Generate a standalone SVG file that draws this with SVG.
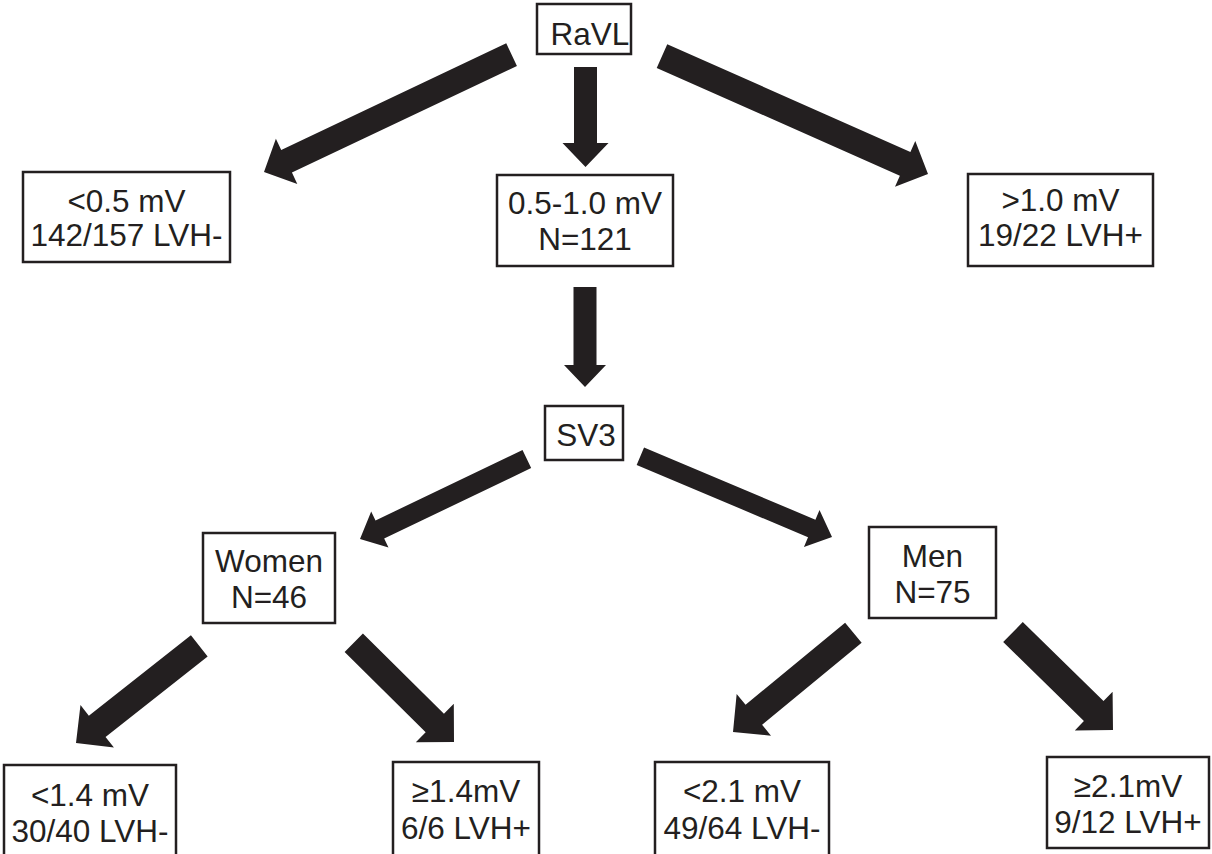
<svg xmlns="http://www.w3.org/2000/svg" width="1212" height="854" viewBox="0 0 1212 854">
<style>
.box{fill:#fff;stroke:#231f20;stroke-width:2.5}
.t{font-family:"Liberation Sans",Arial,sans-serif;font-size:31.5px;fill:#231f20;text-anchor:middle}
.arr{fill:#231f20;stroke:none}
</style>
<rect width="1212" height="854" fill="#fff"/>
<g id="connectors">
<path class="arr" transform="translate(264,172) rotate(154.64)" d="M0,0 L-25,-25 L-25,-12.5 L-274,-12.5 L-274,12.5 L-25,12.5 L-25,25 Z"/>
<path class="arr" transform="translate(585.5,167) rotate(90)" d="M0,0 L-24,-23 L-24,-11.5 L-100,-11.5 L-100,11.5 L-24,11.5 L-24,23 Z"/>
<path class="arr" transform="translate(928,174) rotate(23.92)" d="M0,0 L-25,-25 L-25,-13 L-291,-13 L-291,13 L-25,13 L-25,25 Z"/>
<path class="arr" transform="translate(585,387) rotate(90)" d="M0,0 L-22,-21 L-22,-11.5 L-100,-11.5 L-100,11.5 L-22,11.5 L-22,21 Z"/>
<path class="arr" transform="translate(360,539) rotate(154.4)" d="M0,0 L-22,-20 L-22,-10 L-185,-10 L-185,10 L-22,10 L-22,20 Z"/>
<path class="arr" transform="translate(832,537) rotate(22.87)" d="M0,0 L-22,-20 L-22,-9.5 L-208,-9.5 L-208,9.5 L-22,9.5 L-22,20 Z"/>
<path class="arr" transform="translate(76,743) rotate(141.74)" d="M0,0 L-27,-27 L-27,-13.5 L-157,-13.5 L-157,13.5 L-27,13.5 L-27,27 Z"/>
<path class="arr" transform="translate(454,742) rotate(44.7)" d="M0,0 L-27,-27 L-27,-13 L-141,-13 L-141,13 L-27,13 L-27,27 Z"/>
<path class="arr" transform="translate(733,732) rotate(140.5)" d="M0,0 L-27,-27 L-27,-13 L-156,-13 L-156,13 L-27,13 L-27,27 Z"/>
<path class="arr" transform="translate(1113,730) rotate(44.4)" d="M0,0 L-27,-27 L-27,-14 L-140,-14 L-140,14 L-27,14 L-27,27 Z"/>
</g>
<g id="ravl"><rect class="box" x="537" y="4" width="94" height="50"/><text class="t" x="590" y="45">RaVL</text></g>
<g id="lt05"><rect class="box" x="23" y="172" width="207" height="90"/><text class="t" x="126.5" y="212">&lt;0.5 mV</text><text class="t" x="126.5" y="246">142/157 LVH-</text></g>
<g id="mid"><rect class="box" x="497" y="175" width="176" height="91"/><text class="t" x="585" y="214">0.5-1.0 mV</text><text class="t" x="585" y="250">N=121</text></g>
<g id="gt10"><rect class="box" x="968" y="174" width="185" height="92"/><text class="t" x="1060.5" y="211">&gt;1.0 mV</text><text class="t" x="1060.5" y="246">19/22 LVH+</text></g>
<g id="sv3"><rect class="box" x="545" y="406" width="78" height="54"/><text class="t" x="586" y="446">SV3</text></g>
<g id="women"><rect class="box" x="203" y="533" width="132" height="90"/><text class="t" x="269" y="572">Women</text><text class="t" x="269" y="608">N=46</text></g>
<g id="men"><rect class="box" x="869" y="527" width="127" height="91"/><text class="t" x="932.5" y="567">Men</text><text class="t" x="932.5" y="603">N=75</text></g>
<g id="w_lt14"><rect class="box" x="4" y="765" width="172" height="100"/><text class="t" x="90" y="806">&lt;1.4 mV</text><text class="t" x="90" y="842">30/40 LVH-</text></g>
<g id="w_ge14"><rect class="box" x="393" y="762" width="146" height="100"/><text class="t" x="466" y="802">≥1.4mV</text><text class="t" x="466" y="839">6/6 LVH+</text></g>
<g id="m_lt21"><rect class="box" x="655" y="762" width="174" height="100"/><text class="t" x="742" y="802">&lt;2.1 mV</text><text class="t" x="742" y="839">49/64 LVH-</text></g>
<g id="m_ge21"><rect class="box" x="1047" y="757" width="162" height="91"/><text class="t" x="1128" y="797">≥2.1mV</text><text class="t" x="1128" y="833">9/12 LVH+</text></g>
</svg>
